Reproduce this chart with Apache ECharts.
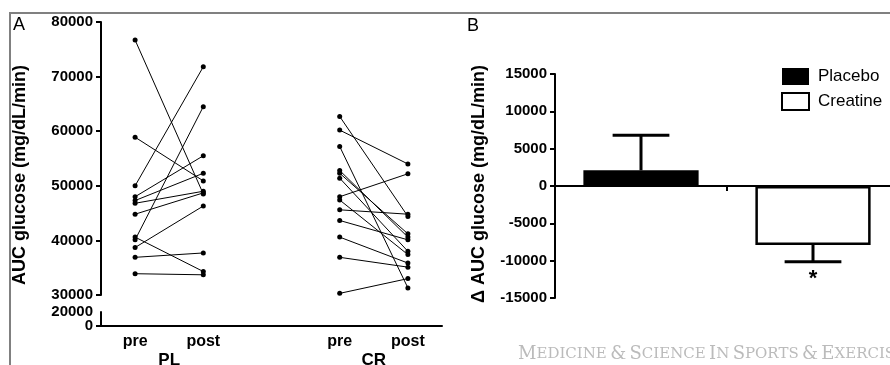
<!DOCTYPE html>
<html>
<head>
<meta charset="utf-8">
<script src="https://cdn.jsdelivr.net/npm/echarts@6/dist/echarts.min.js"></script>
<style>
  html, body { margin: 0; padding: 0; background: #fff; }
  #main { width: 890px; height: 365px; }
</style>
</head>
<body>
<div id="main"></div>
<script>
// panel A: individual AUC values, pre -> post
const xCats = ['pre', 'post', '', 'pre', 'post'];
const groupNames = ['PL', 'CR'];
const plPre  = [76700, 58900, 50000, 48000, 47300, 46800, 44800, 40600, 40100, 38700, 36900, 33900];
const plPost = [48500, 50900, 71800, 55500, 52300, 49000, 48700, 34300, 64500, 46300, 37700, 33700];
const crPre  = [62700, 60200, 57200, 52800, 52300, 51400, 48000, 47400, 45600, 43650, 40600, 36900, 30300];
const crPost = [44400, 54000, 31300, 40600, 41200, 38000, 52200, 37400, 44800, 40100, 35850, 35100, 33000];
// ticks of the short axis segment below the break
const lowTicks = [0, 20000];

// panel B: change in AUC, mean and SEM
const deltaGroups = ['Placebo', 'Creatine'];
const deltaMean = [2100, -7900];
const deltaSem = [4700, 2250];
const sigMarks = ['', '*'];

const FONT = '"Liberation Sans", Arial, sans-serif';
const chart = echarts.init(document.getElementById('main'));

function pairSeries(a, b, v1, v2) {
  return {
    type: 'line', xAxisIndex: 0, yAxisIndex: 0,
    data: [[a, v1], [b, v2]],
    symbol: 'circle', symbolSize: 5,
    itemStyle: { color: '#000' },
    lineStyle: { color: '#000', width: 1 },
    silent: true, z: 3
  };
}

const lineSeries = [];
plPre.forEach((v, i) => lineSeries.push(pairSeries(0, 1, v, plPost[i])));
crPre.forEach((v, i) => lineSeries.push(pairSeries(3, 4, v, crPost[i])));

const axisLine = { show: true, onZero: false, lineStyle: { color: '#000', width: 2 } };
const axisTick = { show: true, length: 5, lineStyle: { color: '#000', width: 2 } };
const yLabel = {
  color: '#000', fontFamily: FONT, fontWeight: 'bold', fontSize: 15, margin: 8,
  showMinLabel: true, showMaxLabel: true, hideOverlap: false,
  formatter: v => String(v)
};

const option = {
  animation: false,
  backgroundColor: '#fff',
  grid: [
    { left: 101, right: 448, top: 22, bottom: 70, outerBoundsMode: 'none' },
    { left: 101, right: 448, top: 312, bottom: 39, outerBoundsMode: 'none' },
    { left: 555, right: -9, top: 74, bottom: 67, outerBoundsMode: 'none' }
  ],
  xAxis: [
    { gridIndex: 0, type: 'category', data: xCats, show: false },
    {
      gridIndex: 1, type: 'category', data: xCats, position: 'bottom',
      axisLine: axisLine,
      axisTick: { alignWithLabel: true, interval: i => i !== 2, length: 5, lineStyle: { color: '#000', width: 2 } },
      axisLabel: { interval: 0, color: '#000', fontFamily: FONT, fontWeight: 'bold', fontSize: 16, margin: 8 }
    },
    {
      gridIndex: 2, type: 'category', data: deltaGroups,
      axisLine: { show: true, onZero: true, lineStyle: { color: '#000', width: 2 } },
      axisTick: axisTick,
      axisLabel: { show: false }
    }
  ],
  yAxis: [
    { gridIndex: 0, type: 'value', min: 30000, max: 80000, interval: 10000,
      axisLine: axisLine, axisTick: axisTick, axisLabel: yLabel, splitLine: { show: false } },
    { gridIndex: 1, type: 'value', position: 'left', min: lowTicks[0], max: lowTicks[1], interval: lowTicks[1],
      axisLine: axisLine, axisTick: axisTick,
      axisLabel: Object.assign({}, yLabel, { showMaxLabel: false, formatter: v => v === lowTicks[0] ? String(v) : '' }),
      splitLine: { show: false } },
    { gridIndex: 2, type: 'value', min: -15000, max: 15000, interval: 5000,
      axisLine: axisLine, axisTick: axisTick, axisLabel: yLabel, splitLine: { show: false } },
    { gridIndex: 1, type: 'value', position: 'left', offset: 0, min: lowTicks[0], max: lowTicks[1], interval: lowTicks[1],
      axisLine: { show: false }, axisTick: { show: false },
      axisLabel: Object.assign({}, yLabel, { showMinLabel: false, formatter: v => v === lowTicks[1] ? String(v) : '' }),
      splitLine: { show: false } }
  ],
  legend: {
    data: deltaGroups,
    orient: 'vertical', left: 781, top: 68, padding: 0,
    icon: 'rect', itemWidth: 27, itemHeight: 17, itemGap: 7,
    textStyle: { color: '#000', fontFamily: FONT, fontSize: 17, padding: [0, 0, 0, 4] }
  },
  series: lineSeries.concat([
    {
      name: 'Placebo', type: 'bar', xAxisIndex: 2, yAxisIndex: 2,
      data: [deltaMean[0], '-'], barWidth: '67%',
      itemStyle: { color: '#000' }
    },
    {
      name: 'Creatine', type: 'bar', xAxisIndex: 2, yAxisIndex: 2,
      data: ['-', deltaMean[1]], barWidth: '67%', barGap: '-100%',
      itemStyle: { color: '#fff', borderColor: '#000', borderWidth: 2.5 }
    },
    {
      type: 'custom', xAxisIndex: 2, yAxisIndex: 2, z: 5,
      data: deltaGroups.map((g, i) => [i, deltaMean[i], deltaSem[i]]),
      renderItem(params, api) {
        const i = api.value(0), m = api.value(1), e = api.value(2);
        const end = m + Math.sign(m) * e;
        const p0 = api.coord([i, m]);
        const p1 = api.coord([i, end]);
        const half = api.size([1, 0])[0] * 0.165;
        const st = { stroke: '#000', lineWidth: 3 };
        const kids = [
          { type: 'line', shape: { x1: p0[0], y1: p0[1], x2: p1[0], y2: p1[1] }, style: st },
          { type: 'line', shape: { x1: p1[0] - half, y1: p1[1], x2: p1[0] + half, y2: p1[1] }, style: st }
        ];
        if (sigMarks[i]) {
          kids.push({ type: 'text', x: p1[0], y: p1[1] + 6,
            style: { text: sigMarks[i], font: 'bold 22px ' + FONT, fill: '#000', textAlign: 'center', textVerticalAlign: 'top' } });
        }
        return { type: 'group', children: kids };
      }
    }
  ]),
  graphic: [
    { type: 'rect', shape: { x: 10, y: 13, width: 900, height: 400 }, style: { fill: 'none', stroke: '#808080', lineWidth: 2 }, z: -10 },
    { type: 'text', x: 13, y: 16, style: { text: 'A', font: '18px ' + FONT, fill: '#000' } },
    { type: 'text', x: 467, y: 17, style: { text: 'B', font: '18px ' + FONT, fill: '#000' } },
    { type: 'text', x: 20, y: 175, rotation: Math.PI / 2,
      style: { text: 'AUC glucose (mg/dL/min)', font: 'bold 18px ' + FONT, fill: '#000', textAlign: 'center', textVerticalAlign: 'middle' } },
    { type: 'text', x: 479, y: 184, rotation: Math.PI / 2,
      style: { text: 'Δ AUC glucose (mg/dL/min)', font: 'bold 18px ' + FONT, fill: '#000', textAlign: 'center', textVerticalAlign: 'middle' } },
    { type: 'text', x: 518, y: 354,
      style: {
        text: '{b|M}{s|EDICINE} {b|&} {b|S}{s|CIENCE} {b|I}{s|N} {b|S}{s|PORTS} {b|&} {b|E}{s|XERCISE}',
        textVerticalAlign: 'middle',
        rich: {
          b: { fontFamily: '"DejaVu Serif", serif', fontSize: 18, color: '#bbb' },
          s: { fontFamily: '"DejaVu Serif", serif', fontSize: 15, color: '#bbb' }
        },
        fill: '#bbb'
      } }
  ]
};

chart.setOption(option);

// group labels under each pre/post pair
const groupPairs = [[0, 1], [3, 4]];
const groupGraphics = groupNames.map((name, k) => {
  const xa = chart.convertToPixel({ xAxisIndex: 1 }, groupPairs[k][0]);
  const xb = chart.convertToPixel({ xAxisIndex: 1 }, groupPairs[k][1]);
  return { type: 'text', x: (xa + xb) / 2, y: 352,
    style: { text: name, font: 'bold 17px ' + FONT, fill: '#000', textAlign: 'center', textVerticalAlign: 'top' } };
});
chart.setOption({ graphic: option.graphic.concat(groupGraphics) });
</script>
</body>
</html>
